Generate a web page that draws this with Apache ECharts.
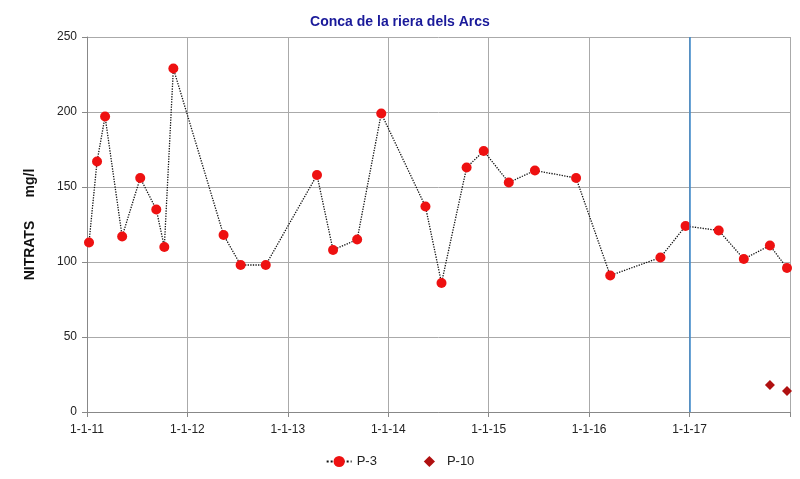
<!DOCTYPE html>
<html><head><meta charset="utf-8">
<script src="https://cdn.jsdelivr.net/npm/echarts@6/dist/echarts.min.js"></script>
<style>body{margin:0}#c{width:800px;height:479px}</style></head>
<body><div id="c"></div>
<script>
const p3Years=[2011.02,2011.10,2011.18,2011.35,2011.53,2011.69,2011.77,2011.86,2012.36,2012.53,2012.78,2013.29,2013.45,2013.69,2013.93,2014.37,2014.53,2014.78,2014.95,2015.20,2015.46,2015.87,2016.21,2016.71,2016.96,2017.29,2017.54,2017.80,2017.97];
const p3Values=[113,167,197,117,156,135,110,229,118,98,98,158,108,115,199,137,86,163,174,153,161,156,91,103,124,121,102,111,96];
const p10Years=[2017.80,2017.97];
const p10Values=[18,14];
const chart=echarts.init(document.getElementById('c'));
chart.setOption({
 animation:false,
 title:{text:'Conca de la riera dels Arcs',left:'center',top:10,textStyle:{color:'#1a1a9a',fontSize:14,fontWeight:'bold',fontFamily:'Liberation Sans'}},
 grid:{left:87,right:10,top:37,bottom:67},
 legend:{bottom:6,left:'center',itemGap:40,textStyle:{fontSize:13,color:'#222'},data:['P-3','P-10']},
 xAxis:{type:'value',min:2011,max:2018,interval:1,
  axisLine:{lineStyle:{color:'#888'}},axisTick:{show:true,length:5,lineStyle:{color:'#888'}},
  splitLine:{show:true,lineStyle:{color:'#aaa'}},
  axisLabel:{color:'#222',fontSize:12,margin:12,formatter:v=>v>=2018?'':'1-1-'+String(v).slice(2)}},
 yAxis:{type:'value',min:0,max:250,interval:50,name:'NITRATS      mg/l',nameLocation:'middle',nameGap:50,
  nameTextStyle:{fontWeight:'bold',fontSize:14,color:'#111'},
  axisLine:{show:true,lineStyle:{color:'#888'}},splitLine:{lineStyle:{color:'#aaa'}},
  axisLabel:{color:'#222',fontSize:12,margin:10}},
 series:[
  {name:'P-3',type:'line',data:p3Years.map((x,i)=>[x,p3Values[i]]),symbol:'circle',symbolSize:10,
   itemStyle:{color:'#ee1111'},lineStyle:{color:'#111',width:1.3,type:'dotted'},
   markLine:{silent:true,symbol:'none',label:{show:false},lineStyle:{color:'#3a86c8',width:1.5,type:'solid'},data:[{xAxis:2017}]}},
  {name:'P-10',type:'line',data:p10Years.map((x,i)=>[x,p10Values[i]]),symbol:'diamond',symbolSize:10,
   itemStyle:{color:'#b01010'},lineStyle:{width:0,color:'#b01010'}}
 ]
});
</script></body></html>
